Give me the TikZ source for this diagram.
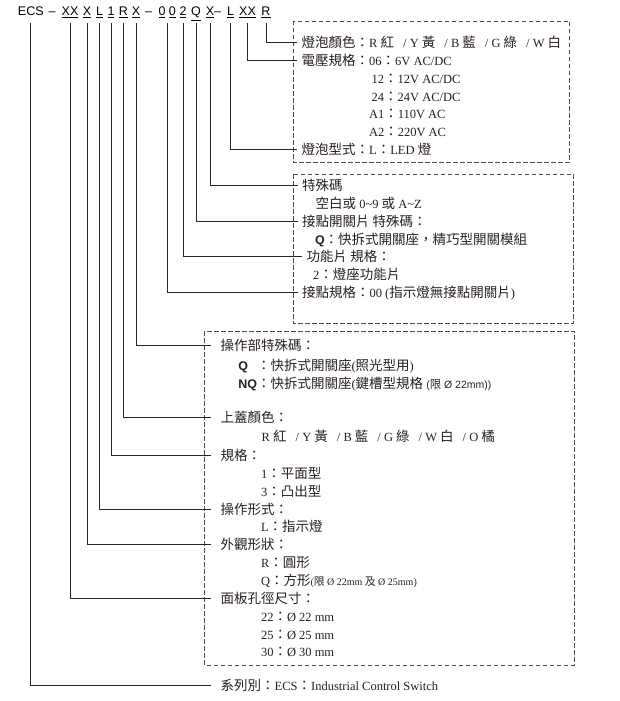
\documentclass[tikz,border=0pt]{standalone}
\usepackage{fontspec}
\setmainfont{Liberation Serif}
\setsansfont{Liberation Sans}
\newfontfamily\cjkfont[Scale=1.08]{Noto Sans CJK TC}
\usetikzlibrary{calc}
% CJK characters switch to the CJK font by themselves
\newcommand\latinfont{\rmfamily}
\chardef\zhclass=7
\newcount\zhc
\def\zhrange#1#2{\zhc=#1\relax\loop\XeTeXcharclass\zhc=\zhclass\relax\ifnum\zhc<#2\relax\advance\zhc by 1\repeat}
\zhrange{"3000}{"303F}
\zhrange{"4E00}{"9FFF}
\zhrange{"FF00}{"FF60}
\XeTeXinterchartoks 0 \zhclass = {\cjkfont}
\XeTeXinterchartoks 4095 \zhclass = {\cjkfont}
\XeTeXinterchartoks \zhclass 0 = {\latinfont}
\XeTeXinterchartoks \zhclass 4095 = {\latinfont}
\XeTeXinterchartokenstate=1
\newcommand\arial[1]{{\renewcommand\latinfont{\sffamily}\sffamily#1}}
\newcommand\sep{\hspace{9pt}/ }
\definecolor{ink}{RGB}{40,32,30}
\begin{document}
\begin{tikzpicture}[x=1pt,y=-1pt,
  hd/.style={font=\fontsize{12.5}{15}\sffamily, anchor=base, inner sep=0pt, text depth=0pt, outer ysep=7pt},
  lab/.style={anchor=west, font=\fontsize{12.5}{15}\selectfont, text=ink, inner sep=1.5pt, outer xsep=3pt, text height=10pt, text depth=0pt},
  labb/.style={lab, outer xsep=8pt},
  link/.style={draw=black!85, line width=0.9pt},
  box/.style={draw=black!70, line width=0.9pt, dash pattern=on 4.5pt off 2.5pt}]
\useasboundingbox (0,0) rectangle (619,701);
%boxes
\draw[box] (293,21) rectangle (569.5,162);
\draw[box] (293,174) rectangle (573.5,323);
\draw[box] (204.5,331) rectangle (574,665);
%code
\node[hd] (ecs) at (30.8,16) {ECS};
\node[hd] (d1) at (52,16) {–};
\node[hd] (d2) at (148.5,16) {–};
\node[hd] (d3) at (217.5,16) {–};
\foreach \n/\x/\t in {cXXa/70/XX, cXb/87/X, cL/99.5/L, c1/111/1, cR/123.5/R, cXc/136/X, c0a/162/0, c0b/172.3/0,
  c2/183/2, cQ/196/Q, cXd/210/X, cLb/230.5/L, cXXb/247.5/XX, cRb/266/R}
  \node[hd] (\n) at (\x,16) {\underline{\t}};
\coordinate (c00) at ($(c0a.south)!0.5!(c0b.south)$);
%lamp box
\node[lab] (lColor) at (297.2,42.7) {燈泡顏色：R 紅\sep Y 黃\sep B 藍\sep G 綠\sep W 白};
\node[lab] (lVolt) at (297.2,60.5) {電壓規格：06：6V AC/DC};
\node[lab] (s12) at (367.2,78.2) {12：12V AC/DC};
\node[lab] (s24) at (367.2,96) {24：24V AC/DC};
\node[lab] (sA1) at (364.5,113.8) {A1：110V AC};
\node[lab] (sA2) at (364.5,131.5) {A2：220V AC};
\node[lab] (lLamp) at (297.2,149.2) {燈泡型式：L：LED 燈};
%contact box
\node[lab] (lSp) at (297.5,185) {特殊碼};
\node[lab] (sSp) at (311.2,203.3) {空白或 0\textasciitilde 9 或 A\textasciitilde Z};
\node[lab] (lSwSp) at (297.5,221.7) {接點開關片 特殊碼：};
\node[lab] (sSwSp) at (310.5,239) {{\bfseries\sffamily Q}：快拆式開關座，精巧型開關模組};
\node[lab] (lFunc) at (302.2,256.7) {功能片 規格：};
\node[lab] (sFunc) at (308.5,274.3) {2：燈座功能片};
\node[lab] (lContact) at (297.5,292.7) {接點規格：00 (指示燈無接點開關片)};
%operator box
\node[labb] (lOpSp) at (211.2,345) {操作部特殊碼：};
\node[lab] (sOpQ) at (233.8,365) {\makebox[18.7pt][l]{\bfseries\sffamily Q}：快拆式開關座(照光型用)};
\node[lab] (sOpNQ) at (233.8,383.3) {{\bfseries\sffamily NQ}：快拆式開關座(鍵槽型規格 \arial{\fontsize{10.5}{12}\selectfont(限 Ø 22mm))}};
\node[labb] (lCap) at (211.2,417.7) {上蓋顏色：};
\node[lab] (sCap) at (257.2,436.7) {R 紅\sep Y 黃\sep B 藍\sep G 綠\sep W 白\sep O 橘};
\node[labb] (lType) at (211.2,455) {規格：};
\node[lab] (s1) at (256.5,473) {1：平面型};
\node[lab] (s3) at (256.5,491) {3：凸出型};
\node[labb] (lMode) at (211.2,509) {操作形式：};
\node[lab] (sL) at (256.5,526.7) {L：指示燈};
\node[labb] (lShape) at (211.2,544) {外觀形狀：};
\node[lab] (sRd) at (256.5,562) {R：圓形};
\node[lab] (sSq) at (256.5,580) {Q：方形{\fontsize{10}{12}\selectfont(限 Ø 22mm 及 Ø 25mm)}};
\node[labb] (lPanel) at (211.2,598.5) {面板孔徑尺寸：};
\node[lab] (s22) at (256.5,616.7) {22：Ø 22 mm};
\node[lab] (s25) at (256.5,634.2) {25：Ø 25 mm};
\node[lab] (s30) at (256.5,651.7) {30：Ø 30 mm};
\node[labb] (lSeries) at (211.2,685.5) {系列別：ECS：Industrial Control Switch};
%connectors
\foreach \a/\b in {ecs/lSeries, cXXa/lPanel, cXb/lShape, cL/lMode, c1/lType, cR/lCap, cXc/lOpSp,
  c2/lFunc, cQ/lSwSp, cXd/lSp, cLb/lLamp, cXXb/lVolt, cRb/lColor}
  \draw[link] (\a.south) |- (\b.west);
\draw[link] (c00) |- (lContact.west);
\end{tikzpicture}
\end{document}
